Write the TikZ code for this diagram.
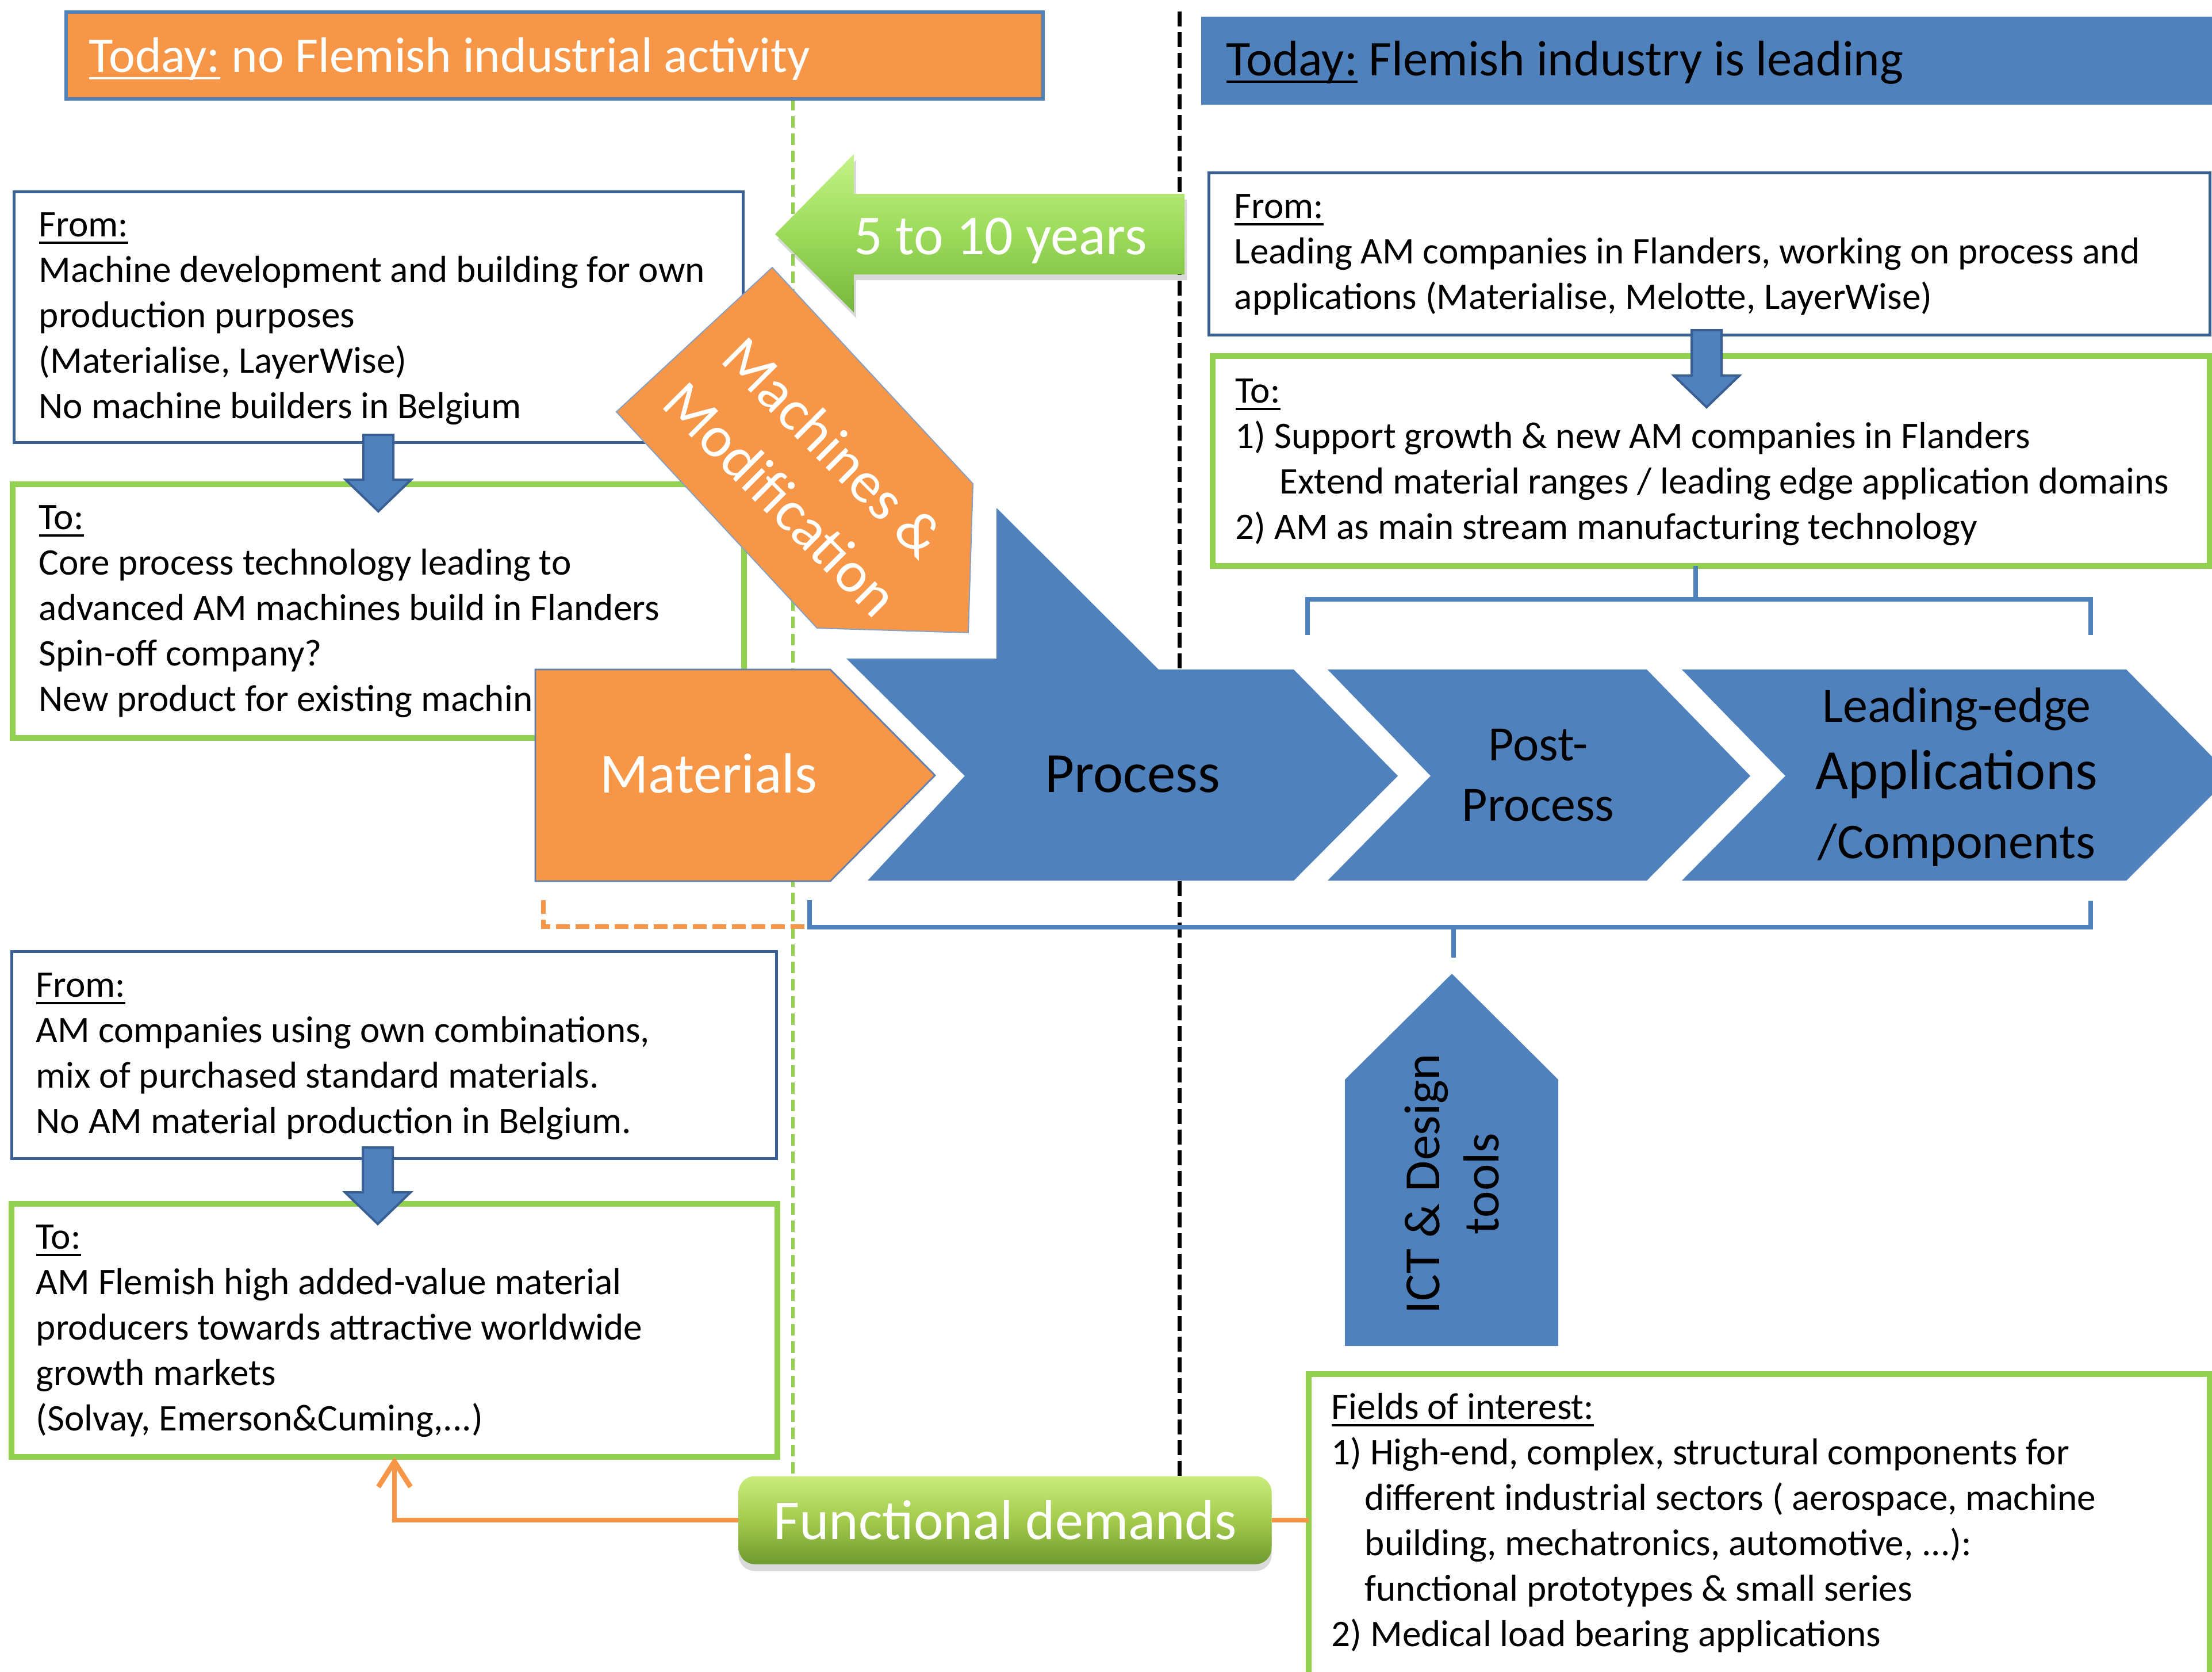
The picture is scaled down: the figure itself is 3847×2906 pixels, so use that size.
\documentclass[tikz,border=0pt]{standalone}
\usepackage{fontspec}
\setmainfont{Carlito}
\usetikzlibrary{arrows.meta,shadows,calc}
\definecolor{ora}{HTML}{F79646}
\definecolor{blu}{HTML}{4F81BD}
\definecolor{bluD}{HTML}{3A5F95}
\definecolor{grn}{HTML}{92D050}
\definecolor{gaTop}{HTML}{C5F288}
\definecolor{gaMid}{HTML}{9CDB5A}
\definecolor{gaBot}{HTML}{76B83C}
\definecolor{fdTop}{HTML}{C9EC7D}
\definecolor{fdMid}{HTML}{A3CB4B}
\definecolor{fdBot}{HTML}{6E9A30}
\newcommand\ul[1]{\leavevmode\setbox0\hbox{#1}\rlap{\rule[-3.2pt]{\wd0}{1pt}}\box0\relax}
\newcommand\bodyfont{\fontsize{16.3pt}{19.75pt}\selectfont}
\newcommand\btext[1]{{\bodyfont\begin{tabular}[t]{@{}l@{}}#1\end{tabular}}}
\newcommand\downarr[3]{%
  \filldraw[blu, draw=bluD, line width=1pt] (#1-26,#2) -- (#1+26,#2) -- (#1+26,#3-55) -- (#1+57,#3-55) -- (#1,#3) -- (#1-57,#3-55) -- (#1-26,#3-55) -- cycle;}
\tikzset{
  boxbase/.style={anchor=north west, inner sep=0pt, outer sep=0pt, fill=white},
  frombox/.style={boxbase, draw=bluD, line width=1.25pt},
  tobox/.style={boxbase, draw=grn, line width=2.5pt},
  btxt/.style={anchor=base west, inner sep=0pt},
  bantext/.style={anchor=base west, inner sep=0pt, font=\fontsize{21.7pt}{26pt}\selectfont},
  gdash/.style={draw=grn, line width=1.5pt, dash pattern=on 5pt off 2.5pt},
  kdash/.style={draw=black, line width=1.75pt, dash pattern=on 6.5pt off 2.5pt},
  odash/.style={draw=ora, line width=2.2pt, dash pattern=on 6pt off 2.5pt},
  brk/.style={draw=blu, line width=2pt},
  oconn/.style={draw=ora, line width=2.2pt},
  chev/.style={fill=blu},
  bigtxt/.style={anchor=base, inner sep=0pt, font=\fontsize{24.7pt}{30pt}\selectfont},
  midtxt/.style={anchor=base, inner sep=0pt, font=\fontsize{21.5pt}{26pt}\selectfont},
}
\begin{document}
\begin{tikzpicture}[x=0.25pt,y=-0.25pt]
\useasboundingbox (0,0) rectangle (3847,2906);
% separators
\draw[gdash] (1379,172) -- (1379,2567);
\draw[kdash] (2051,20) -- (2051,2567);
% banners
\node[boxbase, fill=ora, draw=blu, line width=1.5pt, minimum width=424.75pt, minimum height=37.75pt] (b1) at (115,21) {};
\node[boxbase, fill=blu, minimum width=442.75pt, minimum height=38.25pt] (b2) at (2089,29) {};
\node[bantext, text=white] (b1t) at (154,125) {\ul{Today:} no Flemish industrial activity};
\node[bantext, text=black] (b2t) at (2132,131) {\ul{Today:} Flemish industry is leading};
% boxes
\node[frombox, minimum width=317pt, minimum height=109pt] (f1) at (24,333) {};
\node[tobox, minimum width=318pt, minimum height=110.25pt] (t1) at (22,842) {};
\node[frombox, minimum width=332.5pt, minimum height=90pt] (f2) at (20,1654) {};
\node[tobox, minimum width=333pt, minimum height=110pt] (t2) at (20,2093) {};
\node[frombox, minimum width=435.25pt, minimum height=70.5pt] (f3) at (2102,300) {};
\node[tobox, minimum width=433.5pt, minimum height=91.25pt] (t3) at (2109,619) {};
\node[tobox, minimum width=391.75pt, minimum height=140.25pt] (fi) at (2276,2389) {};
% box texts
\node[btxt] (f1t) at (67,411) {\btext{\ul{From:}\\Machine development and building for own\\production purposes\\(Materialise, LayerWise)\\No machine builders in Belgium}};
\node[btxt] (t1t) at (67,920) {\btext{\ul{To:}\\Core process technology leading to\\advanced AM machines build in Flanders\\Spin-off company?\\New product for existing machin}};
\node[btxt] (f2t) at (62,1733) {\btext{\ul{From:}\\AM companies using own combinations,\\mix of purchased standard materials.\\No AM material production in Belgium.}};
\node[btxt] (t2t) at (62,2171) {\btext{\ul{To:}\\AM Flemish high added-value material\\producers towards attractive worldwide\\growth markets\\(Solvay, Emerson\&Cuming,...)}};
\node[btxt] (f3t) at (2146,379) {\btext{\ul{From:}\\Leading AM companies in Flanders, working on process and\\applications (Materialise, Melotte, LayerWise)}};
\node[btxt] (t3t) at (2148,700) {\btext{\ul{To:}\\1) Support growth \& new AM companies in Flanders\\\hspace*{19.25pt}Extend material ranges / leading edge application domains\\2) AM as main stream manufacturing technology}};
\node[btxt] (fit) at (2315,2467) {\btext{\ul{Fields of interest:}\\1) High-end, complex, structural components for\\\hspace*{14.5pt}different industrial sectors ( aerospace, machine\\\hspace*{14.5pt}building, mechatronics, automotive, ...):\\\hspace*{14.5pt}functional prototypes \& small series\\2) Medical load bearing applications}};
% brackets
\coordinate (tstem) at (2949,984);
\draw[brk] (tstem) -- (2949,1042);
\draw[brk] (2274,1104) -- (2274,1042) -- (3636,1042) -- (3636,1104);
\draw[brk] (1408,1565) -- (1408,1612) -- (3636,1612) -- (3636,1566);
\draw[brk] (2528,1612) -- (2528,1665);
\draw[odash] (945,1565) -- (945,1611) -- (1408,1611);
% down arrows
\downarr{658}{756}{889}
\downarr{2968}{574}{708}
\downarr{657}{1995}{2128}
% chevrons
\filldraw[fill=ora, draw=bluD!80, line width=0.7pt] (931,1164) -- (1444,1164) -- (1626,1348) -- (1444,1532) -- (931,1532) -- cycle;
\fill[chev] (1733,883) -- (2015,1164) -- (2250,1164) -- (2431,1349) -- (2250,1531) -- (1509,1531) -- (1678,1349) -- (1472,1145) -- (1733,1145) -- cycle;
\fill[chev] (2309,1164) -- (2864,1164) -- (3044,1349) -- (2864,1531) -- (2309,1531) -- (2488,1349) -- cycle;
\fill[chev] (2925,1164) -- (3698,1164) -- (3880,1349) -- (3698,1531) -- (2925,1531) -- (3105,1349) -- cycle;
\node[bigtxt, text=white] (mat) at (1232,1378) {Materials};
\node[bigtxt] (proc) at (1970,1377) {Process};
\node[midtxt] (pp1) at (2675,1322) {Post-};
\node[midtxt] (pp2) at (2675,1427) {Process};
\node[midtxt] (le1) at (3403,1255) {Leading-edge};
\node[bigtxt] (le2) at (3403,1372) {Applications};
\node[midtxt, font=\fontsize{21.7pt}{26pt}\selectfont] (le3) at (3403,1492) {/Components};
% machines arrow
\filldraw[fill=ora, draw=bluD!60, line width=0.5pt] (1343,465) -- (1692,841) -- (1684,1100) -- (1421,1092) -- (1072,716) -- cycle;
\node[rotate=-45, align=center, text=white, inner sep=0pt, font=\fontsize{25.5pt}{32pt}\selectfont] (mach) at (1404,822) {Machines \&\\Modification};
% 5 to 10 years arrow
\path[drop shadow={shadow xshift=1pt, shadow yshift=-2.5pt, opacity=0.3}, top color=gaTop, bottom color=gaBot, middle color=gaMid] (1348,407) -- (1485,268) -- (1485,337) -- (2060,337) -- (2060,477) -- (1485,477) -- (1485,543) -- cycle;
\node[bigtxt, text=white, font=\fontsize{24.5pt}{30pt}\selectfont] (yrs) at (1740,442) {5 to 10 years};
% ICT
\fill[chev] (2339,1877) -- (2525,1693) -- (2710,1877) -- (2710,2340) -- (2339,2340) -- cycle;
\node[rotate=90, align=center, inner sep=0pt, font=\fontsize{22pt}{25.75pt}\selectfont] (ict) at (2525,2058) {ICT \& Design\\tools};
% functional demands
\node[rounded corners=7pt, minimum width=231.75pt, minimum height=38.25pt, inner sep=0pt, top color=fdTop, bottom color=fdBot, middle color=fdMid, drop shadow={shadow xshift=0pt, shadow yshift=-3pt, opacity=0.3}, text=white, font=\fontsize{24.5pt}{30pt}\selectfont] (fd) at (1748,2643) {Functional demands};
\draw[oconn, -{Straight Barb[length=11pt,width=14pt]}] (fd.west) -| (t2.south);
\draw[oconn] (fd.east) -- (fd.east -| fi.west);
\end{tikzpicture}
\end{document}
